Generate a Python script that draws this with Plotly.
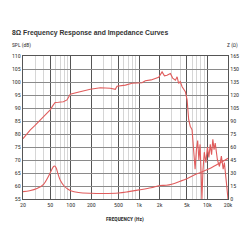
import plotly.graph_objects as go

spl_freq = [20, 23, 25.6, 30, 35.8, 42, 50, 55, 59, 66, 78, 88, 98.5, 115, 138, 193, 271, 379, 449, 475, 630,
            788, 1104, 1234, 1500, 1730, 1934, 2170, 2350, 2565, 2870, 3100, 3400, 3600, 3790, 4000, 4260,
            4750, 5040, 5320, 5600, 5960, 6300, 6600, 6900, 7200, 7500, 7800, 8100, 8300, 8600, 9000,
            9500, 10000, 10500, 11000, 11500, 12000, 12500, 13000, 14000, 15000, 16000, 17000, 17700, 18300, 19000, 20000]
spl_db = [78.2, 80.2, 81.6, 83.3, 85.5, 87.3, 89.3, 91.0, 92.1, 92.2, 92.4, 93.1, 95.3, 95.8, 96.3, 97.2, 97.8, 97.6, 97.2, 98.4, 98.8,
          99.5, 99.7, 100.5, 100.8, 101.4, 101.8, 103.9, 102.4, 102.6, 103.3, 101.5, 100.7, 102.0, 99.5, 100.2, 98.2,
          96.3, 93.1, 85.5, 83.0, 81.6, 71.5, 66.5, 74.0, 77.5, 70.0, 76.0, 64.0, 55.0, 66.0, 73.0,
          69.0, 75.0, 71.0, 76.0, 72.0, 78.0, 74.0, 76.5, 70.0, 67.5, 71.5, 66.5, 69.0, 64.0, 61.0, 55.0]

imp_freq = [20, 25, 32, 40, 47, 52, 56, 58, 61, 65, 70, 80, 90, 100, 130, 200, 300, 500, 700, 1000,
            1500, 2000, 2500, 3000, 4000, 5000, 7000, 10000, 14000, 20000]
imp_ohm = [8.5, 9.5, 12, 17, 26, 33, 37.5, 38, 36, 29, 22, 15, 11.5, 9.5, 7.5, 6.6, 6.4, 7.0, 8.5, 10.5,
           13, 15.5, 15.8, 17, 20.5, 23.5, 29, 34, 40, 47]

major_x = [20, 50, 100, 200, 500, 1000, 2000, 5000, 10000, 20000]
major_x_labels = ["20", "50", "100", "200", "500", "1k", "2k", "5k", "10k", "20k"]
minor_x = [30, 40, 60, 70, 80, 90, 300, 400, 600, 700, 800, 900, 3000, 4000, 6000, 7000, 8000, 9000]
spl_ticks = list(range(55, 111, 5))
imp_ticks = list(range(0, 166, 15))

red = "#e05c5c"
grid = "#8a8a8a"
font = "Roboto Condensed, Liberation Sans Narrow, Roboto, sans-serif"

fig = go.Figure()
fig.add_trace(go.Scatter(x=spl_freq, y=spl_db, mode="lines", line=dict(color=red, width=1.1), yaxis="y"))
fig.add_trace(go.Scatter(x=imp_freq, y=imp_ohm, mode="lines", line=dict(color=red, width=1.1, shape="spline"), yaxis="y2"))

L, R, T, B = 23, 22, 56, 51
fig.update_layout(
    width=250, height=250, showlegend=False,
    margin=dict(l=L, r=R, t=T, b=B),
    paper_bgcolor="white", plot_bgcolor="white",
    font=dict(family=font, size=6, color="#333"),
    xaxis=dict(type="log", range=[1.30103, 4.30103], tickvals=major_x, ticktext=major_x_labels,
               showgrid=True, gridcolor="#555", gridwidth=0.8, showline=True, linecolor="#555", mirror=True,
               ticks="", tickfont=dict(size=6, color="#333"),
               minor=dict(tickvals=minor_x, showgrid=True, gridcolor="#d6d6d6", gridwidth=0.8),
               zeroline=False),
    yaxis=dict(range=[55, 110], tickvals=spl_ticks, showgrid=True, gridcolor=grid, gridwidth=1,
               showline=True, linecolor="#555", ticks="", tickfont=dict(size=6, color="#333"), zeroline=False),
    yaxis2=dict(range=[0, 165], tickvals=imp_ticks, overlaying="y", side="right", showgrid=False,
                showline=True, linecolor="#555", ticks="", tickfont=dict(size=6, color="#333"), zeroline=False),
)

def px_ann(text, x, y, size, anchor, family=None):
    f = dict(size=size, color="#333")
    if family:
        f["family"] = family
    return dict(text=text, x=(x - L) / (250 - L - R), y=(250 - y - B) / (250 - T - B), xref="paper", yref="paper",
                showarrow=False, font=f, xanchor=anchor, yanchor="middle")

fig.update_layout(annotations=[
    px_ann("<b>8Ω Frequency Response and Impedance Curves</b>", 10, 33, 6.8, "left", "Liberation Sans, Arial, sans-serif"),
    px_ann("SPL (dB)", 10, 46, 5.5, "left"),
    px_ann("Z (Ω)", 240, 46, 5.5, "right"),
    px_ann("<b>FREQUENCY (Hz)</b>", 125, 219, 5.5, "center"),
])

fig.write_html("out.html")
